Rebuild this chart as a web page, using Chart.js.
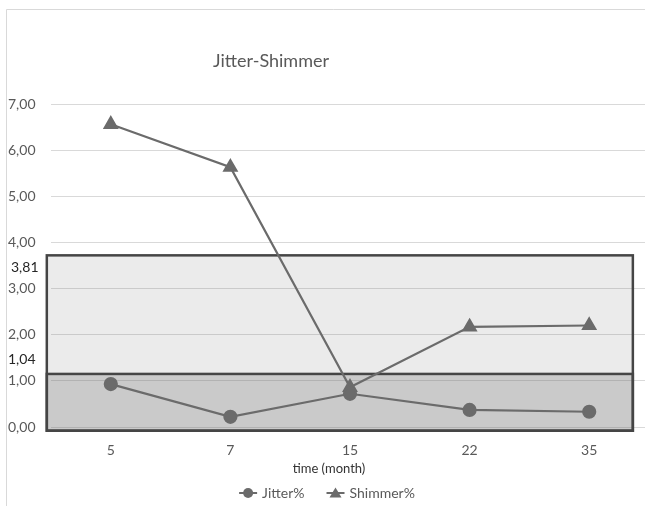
<!DOCTYPE html>
<html>
<head>
<meta charset="utf-8">
<script src="https://cdn.jsdelivr.net/npm/chart.js@4/dist/chart.umd.min.js"></script>
<style>
html, body { margin: 0; padding: 0; background: #fff; overflow: hidden; }
#wrap { width: 645px; height: 506px; overflow: hidden; position: relative; }
</style>
</head>
<body>
<div id="wrap"><canvas id="chart" width="660" height="506"></canvas></div>
<script>
var months = ['5', '7', '15', '22', '35'];
var jitter = [0.93, 0.22, 0.72, 0.37, 0.33];
var shimmer = [6.56, 5.63, 0.86, 2.17, 2.20];
var yMax = 7;
var bandTops = [3.72, 1.15];
var bandLabels = ['3,81', '1,04'];
var bandSpan = [-0.535, 4.365];
var bandBottom = -0.08;

var lineColor = '#6b6b6b';
var textColor = '#595959';
var font = 'Lato';

function fmt(v) {
    return v.toFixed(2).replace('.', ',');
}

var framePlugin = {
    id: 'frame',
    beforeDraw: function (chart) {
        var ctx = chart.ctx;
        ctx.save();
        ctx.fillStyle = '#fff';
        ctx.fillRect(0, 0, chart.width, chart.height);
        ctx.strokeStyle = '#d9d9d9';
        ctx.lineWidth = 1;
        ctx.beginPath();
        ctx.moveTo(6.5, chart.height);
        ctx.lineTo(6.5, 9.5);
        ctx.lineTo(chart.width, 9.5);
        ctx.stroke();
        ctx.restore();
    },
    beforeDatasetsDraw: function (chart) {
        var ctx = chart.ctx;
        var xs = chart.scales.x, ys = chart.scales.y;
        var x0 = xs.getPixelForValue(bandSpan[0]);
        var x1 = xs.getPixelForValue(bandSpan[1]);
        var yb = ys.getPixelForValue(bandBottom);
        var fills = ['rgba(120,120,120,0.15)', 'rgba(120,120,120,0.29)'];
        ctx.save();
        bandTops.forEach(function (top, i) {
            var yt = ys.getPixelForValue(top);
            ctx.fillStyle = fills[i];
            ctx.fillRect(x0, yt, x1 - x0, yb - yt);
        });
        ctx.strokeStyle = '#454545';
        ctx.lineWidth = 2.5;
        bandTops.forEach(function (top) {
            var yt = ys.getPixelForValue(top);
            ctx.strokeRect(x0, yt, x1 - x0, yb - yt);
        });
        ctx.restore();
    },
    afterDraw: function (chart) {
        var ctx = chart.ctx;
        var ys = chart.scales.y;
        ctx.save();
        // title
        ctx.fillStyle = textColor;
        ctx.font = '18px ' + font;
        ctx.textAlign = 'center';
        ctx.textBaseline = 'middle';
        ctx.fillText('Jitter-Shimmer', 271, 61);

        // labels for the shaded boxes
        ctx.fillStyle = '#262626';
        ctx.font = '14px ' + font;
        ctx.textAlign = 'left';
        ctx.fillText(bandLabels[0], 11, ys.getPixelForValue(bandTops[0]) + 12);
        ctx.fillText(bandLabels[1], 8, ys.getPixelForValue(bandTops[1]) - 14);

        // axis title
        ctx.fillStyle = '#333333';
        ctx.font = '13px ' + font;
        ctx.textAlign = 'center';
        ctx.fillText('time (month)', 329, 469);

        // legend
        var items = [
            { text: 'Jitter%', style: 'circle' },
            { text: 'Shimmer%', style: 'triangle' }
        ];
        ctx.font = '14px ' + font;
        var sym = 18, gap = 5, space = 22;
        var total = 0;
        items.forEach(function (it, i) {
            it.w = ctx.measureText(it.text).width;
            total += sym + gap + it.w + (i ? space : 0);
        });
        var x = 327 - total / 2;
        var y = 493;
        items.forEach(function (it, i) {
            if (i) x += space;
            ctx.strokeStyle = lineColor;
            ctx.fillStyle = lineColor;
            ctx.lineWidth = 2;
            ctx.beginPath();
            ctx.moveTo(x, y);
            ctx.lineTo(x + sym, y);
            ctx.stroke();
            var cx = x + sym / 2;
            ctx.beginPath();
            if (it.style === 'circle') {
                ctx.arc(cx, y, 5, 0, Math.PI * 2);
            } else {
                ctx.moveTo(cx, y - 5.5);
                ctx.lineTo(cx + 6, y + 4.5);
                ctx.lineTo(cx - 6, y + 4.5);
                ctx.closePath();
            }
            ctx.fill();
            x += sym + gap;
            ctx.fillStyle = textColor;
            ctx.textAlign = 'left';
            ctx.fillText(it.text, x, y);
            x += it.w;
        });
        ctx.restore();
    }
};

var ctx = document.getElementById('chart');
var chart = new Chart(ctx, {
    type: 'line',
    data: {
        labels: months,
        datasets: [{
            label: 'Jitter%',
            data: jitter,
            borderColor: lineColor,
            backgroundColor: lineColor,
            borderWidth: 2.2,
            pointStyle: 'circle',
            pointRadius: 6,
            pointBackgroundColor: lineColor,
            pointBorderColor: lineColor,
            tension: 0
        }, {
            label: 'Shimmer%',
            data: shimmer,
            borderColor: lineColor,
            backgroundColor: lineColor,
            borderWidth: 2.2,
            pointStyle: 'triangle',
            pointRadius: 7,
            pointBackgroundColor: lineColor,
            pointBorderColor: lineColor,
            tension: 0
        }]
    },
    options: {
        responsive: false,
        devicePixelRatio: 1,
        animation: false,
        layout: { padding: { left: 8, right: 11, top: 104, bottom: 19 } },
        plugins: {
            legend: { display: false },
            title: { display: false },
            tooltip: { enabled: false }
        },
        scales: {
            x: {
                offset: true,
                grid: { display: false },
                border: { display: false },
                ticks: { color: textColor, font: { family: font, size: 14 }, padding: 7, maxRotation: 0 },
                afterFit: function (scale) { scale.height = 60; }
            },
            y: {
                min: 0,
                max: yMax,
                grid: { color: '#d9d9d9', lineWidth: 1, drawTicks: false },
                border: { display: false },
                ticks: {
                    stepSize: 1,
                    color: textColor,
                    font: { family: font, size: 14 },
                    crossAlign: 'far',
                    padding: 0,
                    callback: function (v) { return fmt(v); }
                },
                afterFit: function (scale) { scale.width = 43; }
            }
        }
    },
    plugins: [framePlugin]
});
</script>
</body>
</html>
